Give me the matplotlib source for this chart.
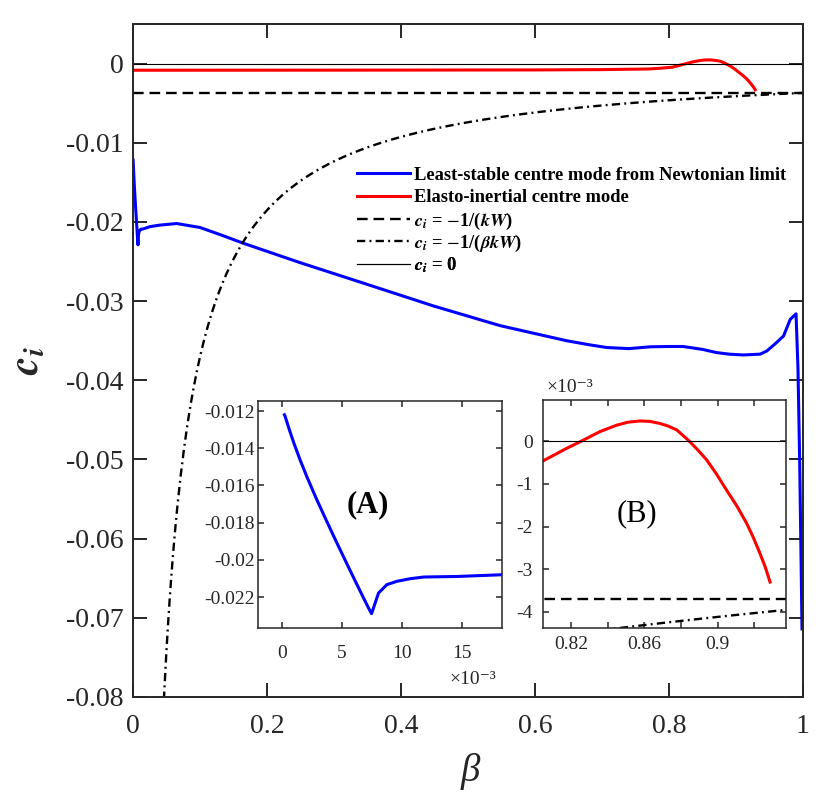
import numpy as np
import matplotlib
matplotlib.use("Agg")
import matplotlib.pyplot as plt
from matplotlib.ticker import FixedLocator, FuncFormatter

plt.rcParams['font.family'] = ['Liberation Serif', 'DejaVu Serif']
plt.rcParams['mathtext.fontset'] = 'stix'
plt.rcParams['axes.unicode_minus'] = False

# ---------------- data ----------------
beta_blue = [0.0002, 0.00025, 0.0006, 0.0010, 0.0015, 0.00206, 0.0028, 0.0035, 0.0042,
             0.00483, 0.0055, 0.0062, 0.0068, 0.0072, 0.00745, 0.00775, 0.00803,
             0.00872, 0.00956, 0.01067, 0.0118, 0.0146, 0.0182,
             0.025, 0.04, 0.065, 0.10, 0.13, 0.165, 0.249, 0.349, 0.448, 0.548,
             0.647, 0.68, 0.707, 0.74, 0.772, 0.80, 0.821, 0.85, 0.871, 0.89, 0.911,
             0.936, 0.946, 0.961, 0.971, 0.981, 0.9896, 0.9925, 0.995, 0.9975, 0.9985]
ci_blue = [-0.0122, -0.01227, -0.01299, -0.01375, -0.01462, -0.01552, -0.01663, -0.01762, -0.01859,
           -0.01945, -0.02035, -0.02128, -0.02207, -0.02259, -0.02289, -0.02231, -0.02178,
           -0.02133, -0.02115, -0.02101, -0.02092, -0.02089, -0.0208,
           -0.0206, -0.0204, -0.0202, -0.0207, -0.0216, -0.0227, -0.02513, -0.02787, -0.0306, -0.0331,
           -0.0350, -0.0355, -0.03586, -0.0360, -0.03577, -0.03573, -0.03573, -0.0361, -0.0365, -0.0367, -0.0368,
           -0.0367, -0.0363, -0.0352, -0.0344, -0.0323, -0.0316, -0.0385, -0.0500, -0.0650, -0.0714]

beta_red = [0.0, 0.3, 0.6, 0.7, 0.77, 0.785, 0.795, 0.805, 0.8177, 0.8258, 0.8358, 0.8449,
            0.851, 0.8576, 0.863, 0.8686, 0.873, 0.8777, 0.884, 0.889, 0.894, 0.8995,
            0.9049, 0.9105, 0.9159, 0.9195, 0.9231, 0.926, 0.9286]
ci_red = [-0.00084, -0.00083, -0.00080, -0.00076, -0.00068, -0.00060, -0.00053, -0.00046,
          -0.00017, 0.0, 0.00022, 0.00037, 0.00044, 0.00047, 0.00046, 0.00041, 0.00035,
          0.00026, 0.00002, -0.00020, -0.00044, -0.00078, -0.00115, -0.00152, -0.00193,
          -0.00226, -0.00263, -0.00295, -0.0033]

kW = 270.0  # constant k*W, so that -1/(kW) ~ -3.7e-3
beta_line = [0.0, 1.0]
beta_dd = np.linspace(0.04, 1.0, 400)

labels = ['Least-stable centre mode from Newtonian limit',
          'Elasto-inertial centre mode',
          r'$\mathbfit{c_i}$ = $-$1/($\mathbfit{kW}$)',
          r'$\mathbfit{c_i}$ = $-$1/($\mathbfit{\beta kW}$)',
          r'$\mathbfit{c_i}$ = 0']

main_xticks = [0, 0.2, 0.4, 0.6, 0.8, 1.0]
main_yticks = [0, -0.01, -0.02, -0.03, -0.04, -0.05, -0.06, -0.07, -0.08]
insA_xticks = [0, 0.005, 0.010, 0.015]
insA_yticks = [-0.012, -0.014, -0.016, -0.018, -0.020, -0.022]
insB_xticks = [0.82, 0.84, 0.86, 0.88, 0.90, 0.92]
insB_xlabels = ['0.82', '', '0.86', '', '0.9', '']
insB_yticks = [0, -0.001, -0.002, -0.003, -0.004]

# ---------------- figure ----------------
W, H = 830, 792
fig = plt.figure(figsize=(W / 100, H / 100), dpi=100)
spine_c = '#262626'


def draw_all(ax, lw_scale=1.0):
    l1, = ax.plot(beta_blue, ci_blue, color=(0, 0, 1), lw=2.2 * lw_scale)
    l2, = ax.plot(beta_red, ci_red, color=(1, 0, 0), lw=2.2 * lw_scale)
    l3, = ax.plot(beta_line, [-1 / kW, -1 / kW], color='k', lw=1.7 * lw_scale,
                  linestyle=(0, (4.5, 2.5)))
    l4, = ax.plot(beta_dd, -1 / (beta_dd * kW), color='k', lw=1.7 * lw_scale,
                  linestyle=(0, (3.5, 1.8, 0.8, 1.8)))
    l5, = ax.plot(beta_line, [0, 0], color='k', lw=0.8)
    return [l1, l2, l3, l4, l5]


def style(ax, length, width, lsize):
    for s in ax.spines.values():
        s.set_color(spine_c)
        s.set_linewidth(width)
    ax.tick_params(which='both', direction='in', top=True, right=True,
                   length=length, width=width, colors=spine_c,
                   labelcolor='#262626', labelsize=lsize)


ax = fig.add_axes([133 / W, 1 - 697 / H, 670 / W, 673 / H])
handles = draw_all(ax)
ax.set_xlim(0, 1)
ax.set_ylim(-0.08, 0.005)
ax.xaxis.set_major_locator(FixedLocator(main_xticks))
ax.yaxis.set_major_locator(FixedLocator(main_yticks))
ax.xaxis.set_major_formatter(FuncFormatter(lambda v, p: f"{v:g}"))
ax.yaxis.set_major_formatter(FuncFormatter(lambda v, p: f"{v:g}"))
style(ax, 10, 1.4, 20)
ax.tick_params(axis='x', pad=12)
ax.tick_params(axis='y', pad=7)

# legend: one entry per row so that rows are evenly spaced
row_y = [175, 198, 221, 243, 265]
for h, lab, yy in zip(handles, labels, row_y):
    lg = ax.legend([h], [lab], loc='center left',
                   bbox_to_anchor=(357 / W, 1 - yy / H), bbox_transform=fig.transFigure,
                   frameon=False, borderpad=0, borderaxespad=0, handlelength=2.85,
                   handletextpad=0.25,
                   prop={'family': ['Liberation Serif', 'DejaVu Serif'], 'weight': 'bold',
                         'size': 13.3})
    ax.add_artist(lg)

fig.text(28 / W, 1 - 360 / H, r'$\mathbfit{c_i}$', rotation=90, ha='center', va='center',
         fontsize=30, color='#262626')
fig.text(470 / W, 1 - 771 / H, 'β', fontstyle='italic', ha='center', va='center',
         fontsize=28, color='#262626')

# inset A
axA = fig.add_axes([258 / W, 1 - 628 / H, 244 / W, 227 / H])
draw_all(axA, 1.0)
axA.set_xlim(-0.0020, 0.0183)
axA.set_ylim(-0.02366, -0.01146)
axA.xaxis.set_major_locator(FixedLocator(insA_xticks))
axA.yaxis.set_major_locator(FixedLocator(insA_yticks))
axA.xaxis.set_major_formatter(FuncFormatter(lambda v, p: f"{v * 1000:g}"))
axA.yaxis.set_major_formatter(FuncFormatter(lambda v, p: f"{v:g}"))
style(axA, 4.3, 1.1, 14)
axA.tick_params(axis='x', pad=12)
axA.tick_params(axis='y', pad=2)
axA.text(0.45, 0.542, '(A)', transform=axA.transAxes, ha='center', va='center',
         fontsize=22, fontweight='bold')
fig.text(473 / W, 1 - 680 / H, '×10⁻³', ha='center', va='center', fontsize=14,
         color='#262626', family=['Liberation Serif', 'DejaVu Serif'])

# inset B
axB = fig.add_axes([542.7 / W, 1 - 628 / H, 243.3 / W, 228 / H])
draw_all(axB, 1.0)
axB.set_xlim(0.8046, 0.9373)
axB.set_ylim(-0.004375, 0.00096)
axB.xaxis.set_major_locator(FixedLocator(insB_xticks))
axB.set_xticklabels(insB_xlabels)
axB.yaxis.set_major_locator(FixedLocator(insB_yticks))
axB.yaxis.set_major_formatter(FuncFormatter(lambda v, p: f"{round(v * 1000):d}"))
style(axB, 4.3, 1.1, 14)
axB.tick_params(axis='x', pad=6)
axB.tick_params(axis='y', pad=7)
axB.text(0.386, 0.503, '(B)', transform=axB.transAxes, ha='center', va='center',
         fontsize=22)
fig.text(570 / W, 1 - 387 / H, '×10⁻³', ha='center', va='center', fontsize=14,
         color='#262626', family=['Liberation Serif', 'DejaVu Serif'])

fig.savefig('out.png', dpi=100)
